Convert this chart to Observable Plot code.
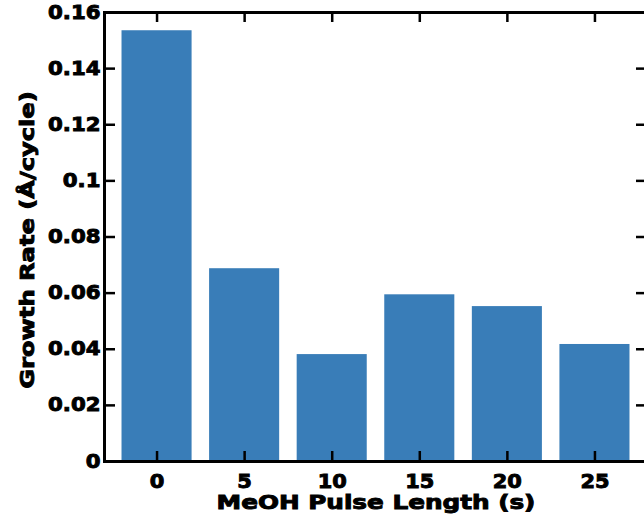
<!DOCTYPE html>
<html>
<head>
<meta charset="utf-8">
<script src="https://cdn.jsdelivr.net/npm/d3@7"></script>
<script src="https://cdn.jsdelivr.net/npm/@observablehq/plot@0.6"></script>
<style>
  html, body { margin: 0; padding: 0; background: #fff; overflow: hidden; }
  #chart svg text { stroke: black; stroke-width: 0.9px; paint-order: stroke; }
</style>
</head>
<body>
<div id="chart"></div>
<script>
const pulseLengths = [0, 5, 10, 15, 20, 25];
const growthRates = [0.1535, 0.0687, 0.0381, 0.0594, 0.0552, 0.0417];
const yTicks = [0, 0.02, 0.04, 0.06, 0.08, 0.1, 0.12, 0.14, 0.16];
const yTickLabels = ["0", "0.02", "0.04", "0.06", "0.08", "0.1", "0.12", "0.14", "0.16"];
const xTicks = [0, 5, 10, 15, 20, 25];
const xLabel = "MeOH Pulse Length (s)";
const yLabel = "Growth Rate (Å/cycle)";

const data = pulseLengths.map((p, i) => ({pulse: p, rate: growthRates[i]}));
const halfWidth = 2;

const chart = Plot.plot({
  width: 644,
  height: 524,
  marginLeft: 104,
  marginTop: 12,
  marginBottom: 63,
  marginRight: -3,
  style: {fontFamily: "DejaVu Sans", fontWeight: "bold", fontSize: "19px", color: "black", background: "white"},
  x: {type: "linear", domain: [-3, 28]},
  y: {domain: [0, 0.16]},
  marks: [
    Plot.rectY(data, {x1: d => d.pulse - halfWidth, x2: d => d.pulse + halfWidth, y1: 0, y2: "rate", fill: "#397db8"}),
    Plot.ruleX(xTicks, {x: d => d, insetTop: 439, stroke: "black", strokeWidth: 2.5}),
    Plot.ruleX(xTicks, {x: d => d, insetBottom: 439, stroke: "black", strokeWidth: 2.5}),
    Plot.ruleY(yTicks, {y: d => d, insetRight: 532, stroke: "black", strokeWidth: 2.5}),
    Plot.ruleY(yTicks, {y: d => d, insetLeft: 532, stroke: "black", strokeWidth: 2.5}),
    Plot.frame({stroke: "black", strokeWidth: 3}),
    Plot.axisY(yTicks, {tickSize: 0, tickPadding: 4, tickFormat: (d, i) => yTickLabels[i], label: null, className: "tick-y"}),
    Plot.axisX(xTicks, {tickSize: 0, tickPadding: 13, label: null, className: "tick-x"}),
    Plot.text([xLabel], {frameAnchor: "bottom", dy: 47, text: d => d, textAnchor: "middle", className: "lab-x"}),
    Plot.text([yLabel], {frameAnchor: "left", dx: -77, dy: 3, rotate: -90, text: d => d, textAnchor: "middle", className: "lab-y"})
  ]
});

document.getElementById("chart").appendChild(chart);

function stretch(selector, factor) {
  chart.querySelectorAll(selector).forEach(t => {
    const w = t.getComputedTextLength();
    t.setAttribute("textLength", (w * factor).toFixed(1));
    t.setAttribute("lengthAdjust", "spacingAndGlyphs");
  });
}
stretch(".tick-y text", 1.12);
stretch(".tick-x text", 1.1);
stretch(".lab-x text", 1.3);
stretch(".lab-y text", 1.27);
</script>
</body>
</html>
